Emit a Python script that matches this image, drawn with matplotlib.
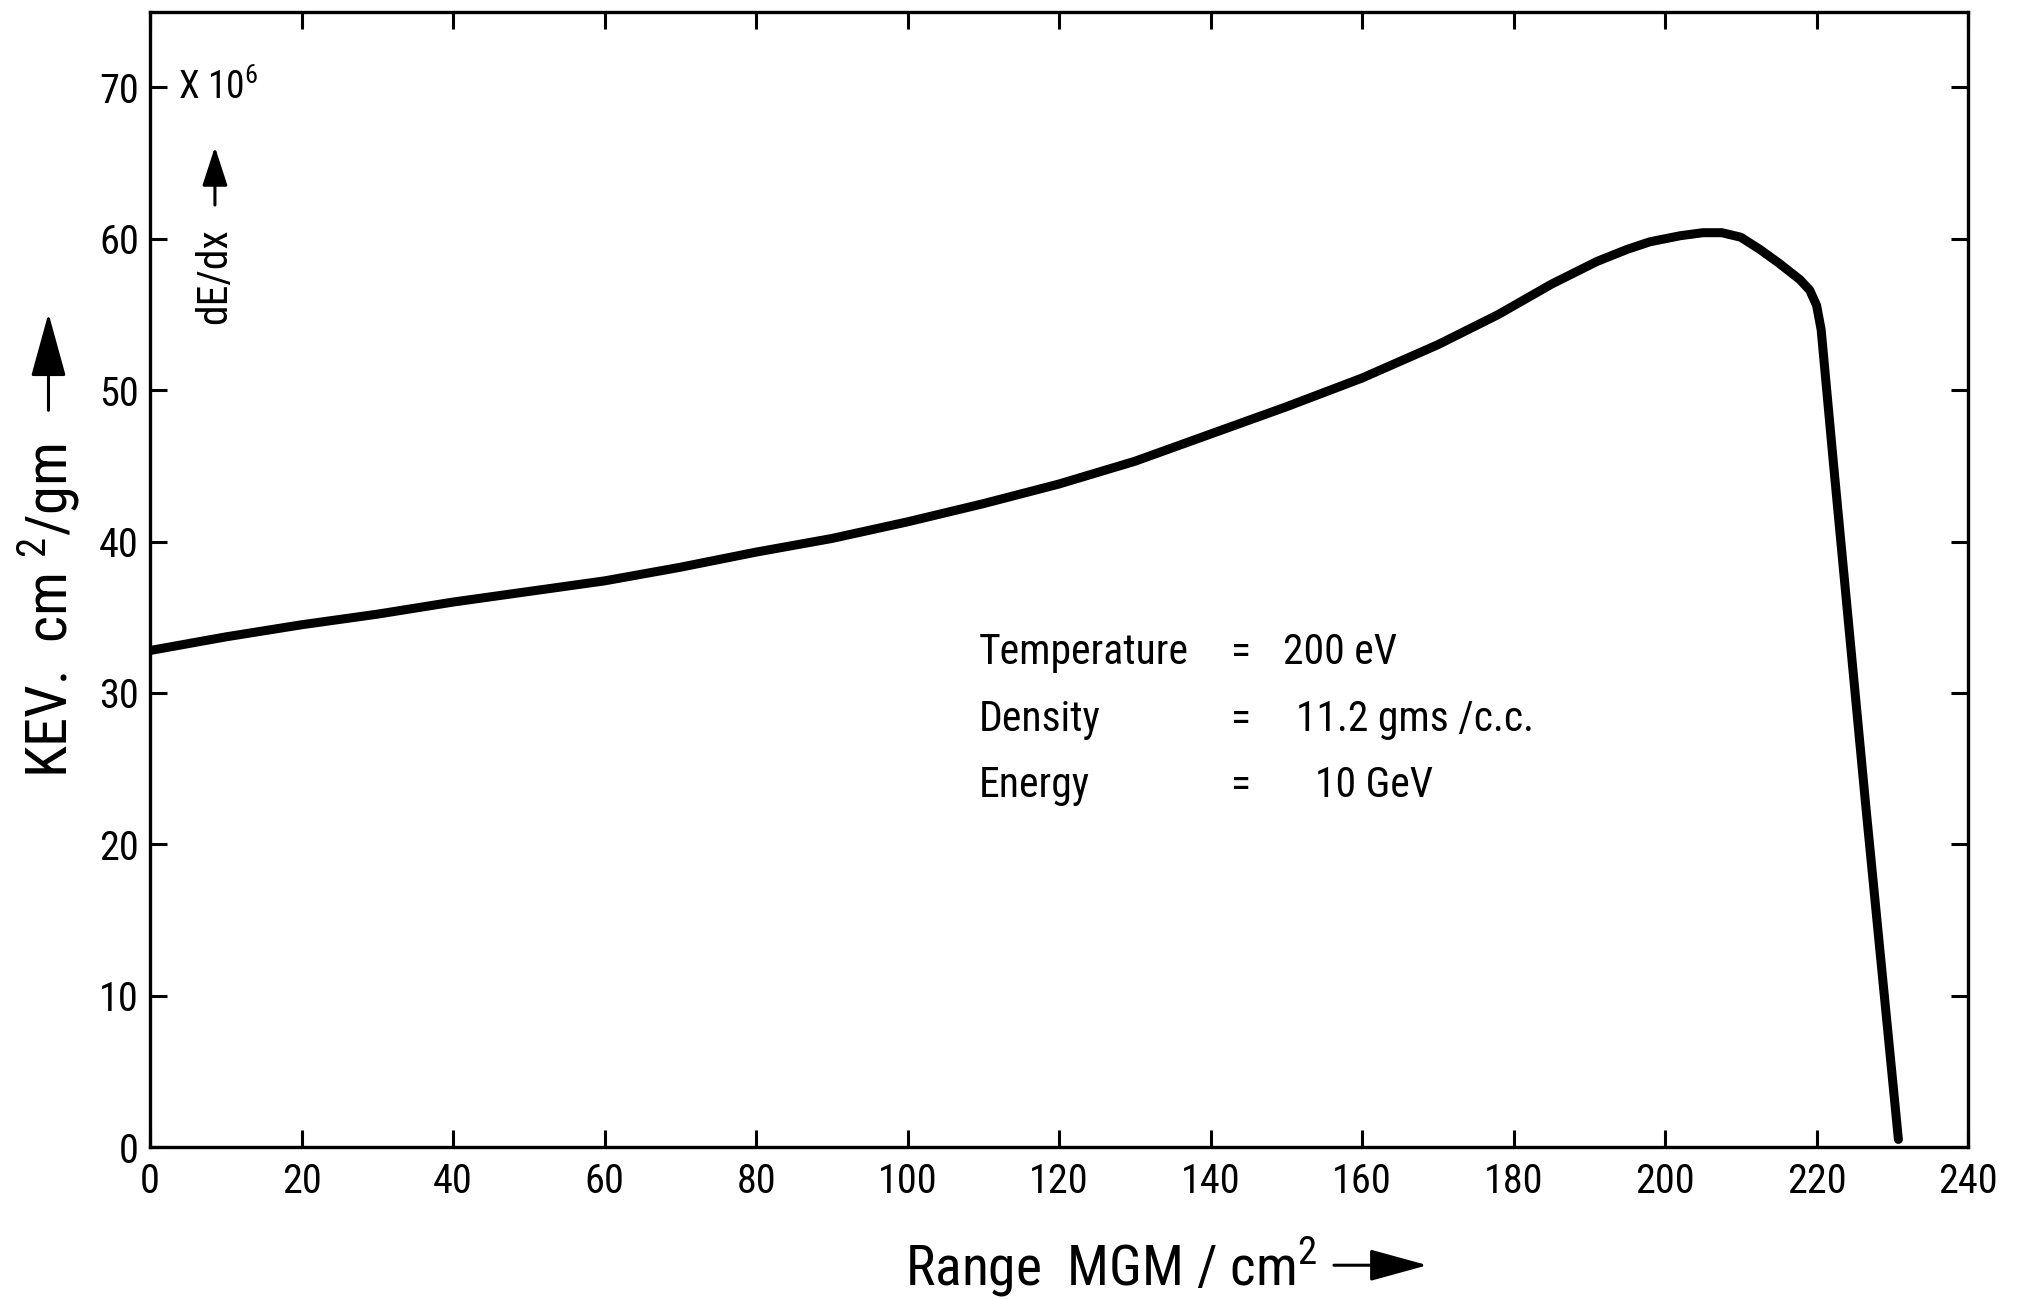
import matplotlib
matplotlib.use("Agg")
import matplotlib.pyplot as plt
from matplotlib import font_manager
from matplotlib.patches import FancyArrowPatch

# 字体: 尽量找窄体, 近似原图的 DIN 字体
names = {f.name for f in font_manager.fontManager.ttflist}
font = 'DejaVu Sans'
for cand in ['Liberation Sans Narrow', 'Roboto Condensed', 'Open Sans Condensed', 'Roboto']:
    if cand in names:
        font = cand
        break
plt.rcParams['font.family'] = [font, 'DejaVu Sans']
plt.rcParams['mathtext.fontset'] = 'custom'
plt.rcParams['mathtext.rm'] = font
plt.rcParams['mathtext.it'] = font

# 数据
range_mgm = [0, 10, 20, 30, 40, 50, 60, 70, 80, 90, 100, 110, 120, 130, 140,
             150, 160, 170, 178, 185, 191, 195, 198, 202, 205, 207.5, 210, 212.5,
             215, 217.8, 219.1, 220.0, 220.6, 222.2, 226.5, 230.8]
dedx = [32.8, 33.7, 34.5, 35.2, 36.0, 36.7, 37.4, 38.3, 39.3, 40.2, 41.3, 42.5,
        43.8, 45.3, 47.1, 48.9, 50.8, 53.0, 55.0, 57.0, 58.5, 59.3, 59.8, 60.2,
        60.4, 60.4, 60.1, 59.3, 58.4, 57.3, 56.6, 55.6, 54.0, 45.3, 22.5, 0.5]

x_ticks = list(range(0, 241, 20))
y_ticks = list(range(0, 71, 10))

param_names = ['Temperature', 'Density', 'Energy']
param_values = ['200 eV', '11.2 gms /c.c.', '10 GeV']
value_x = [149.6, 151.3, 153.8]

fig = plt.figure(figsize=(20.2, 12.99), dpi=100)
ax = fig.add_axes([0.0743, 0.117, 0.900, 0.874])

ax.plot(range_mgm, dedx, color='black', lw=6.5, solid_capstyle='round',
        solid_joinstyle='round')

ax.set_xlim(0, 240)
ax.set_ylim(0, 75)
ax.set_xticks(x_ticks)
ax.set_yticks(y_ticks)
ax.tick_params(axis='both', direction='in', length=12, width=2.2,
               labelsize=29, top=True, right=True)
ax.tick_params(axis='x', pad=11)
ax.tick_params(axis='y', pad=8)
for s in ax.spines.values():
    s.set_linewidth(2.4)

# 参数说明
for i, (n, v) in enumerate(zip(param_names, param_values)):
    yy = 31.9 - 4.4 * i
    ax.text(109.4, yy, n, fontsize=30, va='baseline', ha='left')
    ax.text(142.7, yy, '=', fontsize=30, va='baseline', ha='left')
    ax.text(value_x[i], yy, v, fontsize=30, va='baseline', ha='left')

# X 10^6 和 dE/dx
ax.text(3.7, 70, r'X 10$^{6}$', fontsize=27, va='center', ha='left')
fig.text(0.1064, 0.7875, 'dE/dx', rotation=90, fontsize=30,
         ha='center', va='center')
fig.add_artist(FancyArrowPatch(
    (0.1064, 0.840), (0.1064, 0.889), transform=fig.transFigure,
    arrowstyle='-|>,head_length=2.0,head_width=0.65', mutation_scale=12,
    lw=2.2, color='black'))

# y 轴标题 + 箭头
fig.text(0.024, 0.53, r'KEV.  cm $^{2}$/gm', rotation=90, fontsize=42,
         ha='center', va='center')
fig.add_artist(FancyArrowPatch(
    (0.024, 0.682), (0.024, 0.761), transform=fig.transFigure,
    arrowstyle='-|>,head_length=2.0,head_width=0.55', mutation_scale=20,
    lw=2.2, color='black'))

# x 轴标题 + 箭头
fig.text(0.448, 0.011, r'Range  MGM / cm$^{2}$', fontsize=40,
         ha='left', va='baseline')
fig.add_artist(FancyArrowPatch(
    (0.659, 0.026), (0.708, 0.026), transform=fig.transFigure,
    arrowstyle='-|>,head_length=2.0,head_width=0.55', mutation_scale=18,
    lw=2.2, color='black'))

fig.savefig('out.png', dpi=100)
